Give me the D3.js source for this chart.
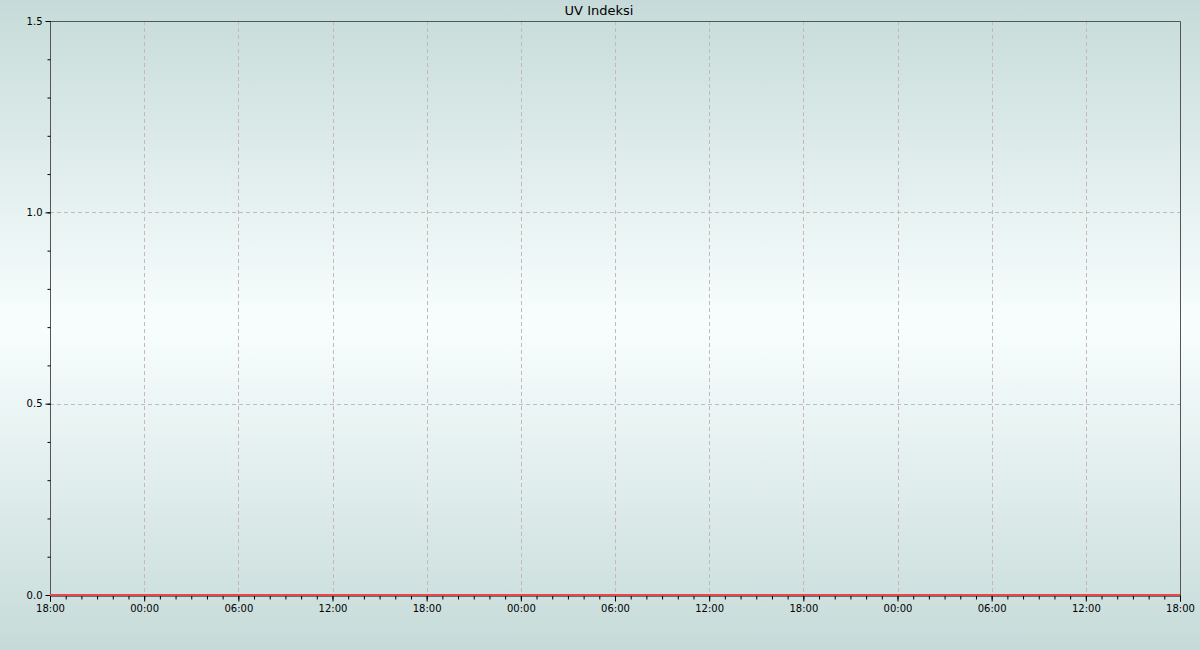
<!DOCTYPE html>
<html><head><meta charset="utf-8">
<script src="https://cdn.jsdelivr.net/npm/d3@7"></script>
<style>html,body{margin:0;padding:0;background:#fff}svg{display:block}</style>
</head><body>
<script>
const title = "UV Indeksi";
const startTime = "2024-05-10T18:00:00";
const hoursCount = 72;
const uvValues = [0,0,0,0,0,0,0,0,0,0,0,0,0,0,0,0,0,0,0,0,0,0,0,0,
  0,0,0,0,0,0,0,0,0,0,0,0,0,0,0,0,0,0,0,0,0,0,0,0,
  0,0,0,0,0,0,0,0,0,0,0,0,0,0,0,0,0,0,0,0,0,0,0,0,0];
const yTicks = [0, 0.5, 1.0, 1.5];
const yDomain = [0, 1.5];

const W = 1200, H = 650;
const m = {left: 50, right: 20, top: 21, bottom: 55};
const svg = d3.select("body").append("svg").attr("width", W).attr("height", H);
const defs = svg.append("defs");
const g1 = defs.append("linearGradient").attr("id","bg").attr("x1",0).attr("y1",0).attr("x2",0).attr("y2",1);
g1.append("stop").attr("offset","0%").attr("stop-color","#c6dbd9");
g1.append("stop").attr("offset","50%").attr("stop-color","#f8fefe");
g1.append("stop").attr("offset","100%").attr("stop-color","#c6dbd9");
svg.append("rect").attr("width",W).attr("height",H).attr("fill","url(#bg)");

const t0 = new Date(startTime);
const data = uvValues.map((v,i)=>({t: new Date(t0.getTime()+i*3600e3), v}));
const t1 = new Date(t0.getTime()+hoursCount*3600e3);

const x = d3.scaleTime().domain([t0,t1]).range([m.left, W-m.right]);
const y = d3.scaleLinear().domain(yDomain).range([H-m.bottom, m.top]);

const majorX = d3.timeHour.every(6).range(t0, new Date(t1.getTime()+1));
const minorX = d3.timeHour.every(1).range(t0, new Date(t1.getTime()+1));

// grid
svg.append("g").selectAll("line").data(majorX.filter(d=>+d>+t0 && +d<+t1)).join("line")
  .attr("x1",d=>Math.round(x(d))+0.5).attr("x2",d=>Math.round(x(d))+0.5)
  .attr("y1",y(yDomain[1])).attr("y2",y(0))
  .attr("stroke","#c4b8bc").attr("stroke-dasharray","4,3").attr("stroke-width",1);
svg.append("g").selectAll("line").data(yTicks.filter(d=>d>0 && d<yDomain[1])).join("line")
  .attr("x1",m.left).attr("x2",W-m.right)
  .attr("y1",d=>Math.round(y(d))+0.5).attr("y2",d=>Math.round(y(d))+0.5)
  .attr("stroke","#bcbcbc").attr("stroke-dasharray","4,3").attr("stroke-width",1);

// frame
svg.append("path")
  .attr("d",`M${m.left+0.5},${y(0)}V${m.top+0.5}H${W-m.right+0.5}V${y(0)}`)
  .attr("fill","none").attr("stroke","#555").attr("stroke-width",1);

// x axis
const fmt = d3.timeFormat("%H:%M");
const xAxisMinor = d3.axisBottom(x).tickValues(minorX).tickSize(4).tickFormat("");
const xAxisMajor = d3.axisBottom(x).tickValues(majorX).tickSize(6).tickPadding(3).tickFormat(fmt);
const gxm = svg.append("g").attr("transform",`translate(0,${Math.round(y(0))+0.5})`).call(xAxisMinor);
gxm.select(".domain").remove();
gxm.selectAll("line").attr("stroke","#000");
const gx = svg.append("g").attr("transform",`translate(0,${Math.round(y(0))+0.5})`).call(xAxisMajor);
gx.select(".domain").attr("stroke","#000");
gx.selectAll("line").attr("stroke","#000");
gx.selectAll("text").attr("font-family","DejaVu Sans").attr("font-size",10).attr("fill","#000");

// y axis
const minorY = d3.range(0, 16).map(i=>i/10);
const yAxisMinor = d3.axisLeft(y).tickValues(minorY).tickSize(3).tickFormat("");
const gym = svg.append("g").attr("transform",`translate(${m.left+0.5},0)`).call(yAxisMinor);
gym.select(".domain").remove();
gym.selectAll("line").attr("stroke","#000");
const yAxis = d3.axisLeft(y).tickValues(yTicks).tickSize(5).tickPadding(3).tickFormat(d3.format(".1f"));
const gy = svg.append("g").attr("transform",`translate(${m.left+0.5},0)`).call(yAxis);
gy.select(".domain").remove();
gy.selectAll("line").attr("stroke","#000");
gy.selectAll("text").attr("font-family","DejaVu Sans").attr("font-size",10).attr("fill","#000");

// line
const line = d3.line().x(d=>x(d.t)).y(d=>y(d.v));
svg.append("path").datum(data).attr("d",line).attr("fill","none")
  .attr("stroke","#e8484c").attr("stroke-width",2);

svg.append("text").attr("x",599).attr("y",15).attr("text-anchor","middle")
  .attr("font-family","DejaVu Sans").attr("font-size",13).attr("fill","#000").text(title);
</script>
</body></html>
